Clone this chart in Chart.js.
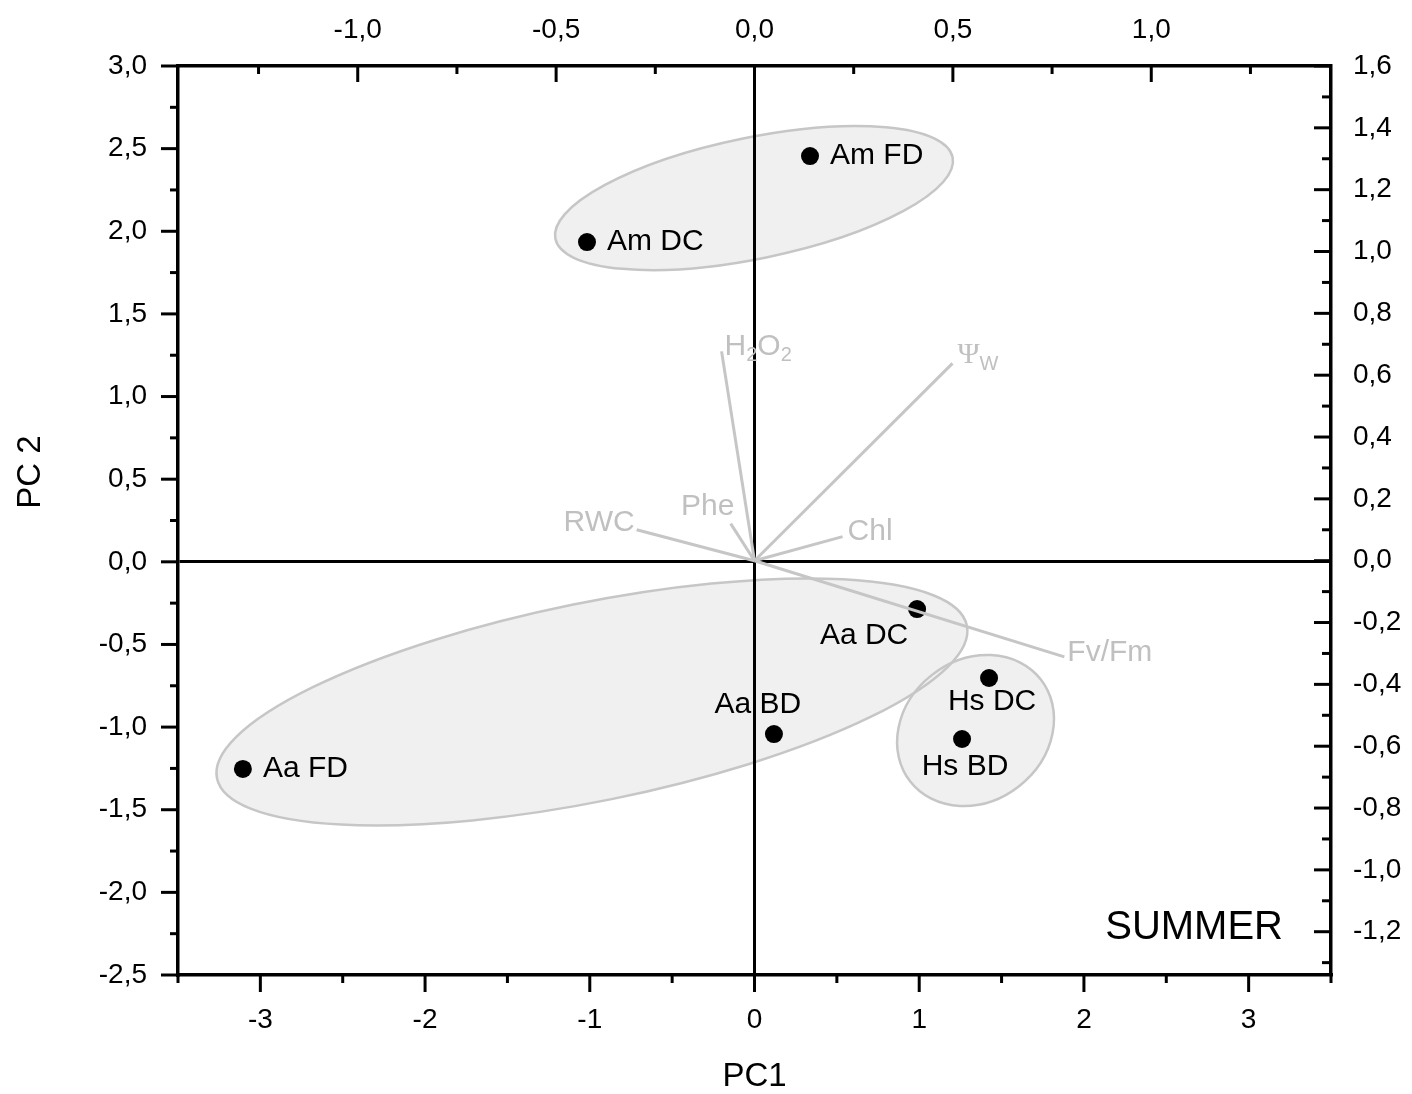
<!DOCTYPE html>
<html>
<head>
<meta charset="utf-8">
<script src="https://cdn.jsdelivr.net/npm/chart.js@4.4.1/dist/chart.umd.min.js"></script>
<style>
  html, body { margin: 0; padding: 0; background: #fff; }
  #wrap { width: 1412px; height: 1094px; }
</style>
</head>
<body>
<div id="wrap"><canvas id="pca" width="1412" height="1094"></canvas></div>
<script>
// sample scores, bottom / left axes
const sampleNames = ["Am FD", "Am DC", "Aa DC", "Aa BD", "Aa FD", "Hs DC", "Hs BD"];
const scorePC1 = [0.337, -1.017, 0.987, 0.118, -3.106, 1.424, 1.260];
const scorePC2 = [2.455, 1.935, -0.286, -1.042, -1.253, -0.703, -1.072];

// variable loadings, top / right axes
const varNames = ["H2O2", "Psi_w", "Phe", "RWC", "Chl", "Fv/Fm"];
const loadX = [-0.083, 0.499, -0.060, -0.297, 0.222, 0.781];
const loadY = [0.677, 0.638, 0.120, 0.100, 0.078, -0.311];

// group ellipses (PC units, angle in degrees)
const groupNames = ["Am", "Aa", "Hs"];
const groupCx = [-0.003, -0.987, 1.342];
const groupCy = [2.201, -0.848, -1.021];
const groupRx = [1.231, 2.323, 0.503];
const groupRy = [0.368, 0.602, 0.429];
const groupAngle = [11.6, 11.5, 38];

// axis ticks
const pc1Ticks = [-3, -2, -1, 0, 1, 2, 3];
const pc1Minor = [-3.5, -2.5, -1.5, -0.5, 0.5, 1.5, 2.5, 3.5];
const pc2Ticks = [-2.5, -2.0, -1.5, -1.0, -0.5, 0.0, 0.5, 1.0, 1.5, 2.0, 2.5, 3.0];
const pc2Minor = [-2.25, -1.75, -1.25, -0.75, -0.25, 0.25, 0.75, 1.25, 1.75, 2.25, 2.75];
const topTicks = [-1.0, -0.5, 0.0, 0.5, 1.0];
const topMinor = [-1.25, -0.75, -0.25, 0.25, 0.75, 1.25];
const rightTicks = [-1.2, -1.0, -0.8, -0.6, -0.4, -0.2, 0.0, 0.2, 0.4, 0.6, 0.8, 1.0, 1.2, 1.4, 1.6];
const rightMinor = [-1.3, -1.1, -0.9, -0.7, -0.5, -0.3, -0.1, 0.1, 0.3, 0.5, 0.7, 0.9, 1.1, 1.3, 1.5];

const FONT = "'Liberation Sans', Arial, sans-serif";
const GREY = "#c0c0c0";

// label placement (pixels from the mark)
const sampleLabelPos = [
  [20, 0, "left"], [20, 0, "left"], [-53, 27, "center"], [-16, -29, "center"],
  [20, 0, "left"], [3, 24, "center"], [3, 28, "center"]
];
const varLabelPos = [[3, -5, "left"], [5, -8, "left"], [-23, -17, "center"], [-2, -7, "right"], [5, -5, "left"], [3, -4, "left"]];

const comma = v => v.toFixed(1).replace(".", ",");
const setTicks = arr => scale => { scale.ticks = arr.map(v => ({ value: v })); };

const ellipsePlugin = {
  id: "groupEllipses",
  beforeDraw(chart) {
    const { ctx, scales: { x, y } } = chart;
    ctx.save();
    ctx.fillStyle = "#fff";
    ctx.fillRect(0, 0, chart.width, chart.height);
    const ppu = x.getPixelForValue(1) - x.getPixelForValue(0);
    const path = i => {
      ctx.beginPath();
      ctx.ellipse(x.getPixelForValue(groupCx[i]), y.getPixelForValue(groupCy[i]),
        groupRx[i] * ppu, groupRy[i] * ppu, -groupAngle[i] * Math.PI / 180, 0, 2 * Math.PI);
    };
    groupNames.forEach((g, i) => { path(i); ctx.fillStyle = "#f0f0f0"; ctx.fill(); });
    groupNames.forEach((g, i) => { path(i); ctx.strokeStyle = "#c6c6c6"; ctx.lineWidth = 2.5; ctx.stroke(); });
    ctx.restore();
  }
};

function drawSubText(ctx, parts, x, y, size) {
  // parts: [text, isSub, family]
  let cx = x;
  parts.forEach(([t, sub, fam]) => {
    const s = sub ? Math.round(size * 0.68) : size;
    ctx.font = `${s}px ${fam || FONT}`;
    ctx.fillText(t, cx, sub ? y + size * 0.3 : y);
    cx += ctx.measureText(t).width;
  });
}

const labelPlugin = {
  id: "labels",
  afterDatasetsDraw(chart) {
    const { ctx, scales: { x2, y2 } } = chart;
    ctx.save();
    ctx.textBaseline = "middle";
    // variable labels
    ctx.fillStyle = GREY;
    varNames.forEach((name, i) => {
      const px = x2.getPixelForValue(loadX[i]) + varLabelPos[i][0];
      const py = y2.getPixelForValue(loadY[i]) + varLabelPos[i][1];
      ctx.textAlign = "left";
      if (name === "H2O2") {
        drawSubText(ctx, [["H"], ["2", true], ["O"], ["2", true]], px, py, 30);
      } else if (name === "Psi_w") {
        drawSubText(ctx, [["\u03A8", false, "'Liberation Serif', 'Times New Roman', serif"], ["W", true]], px, py, 30);
      } else {
        ctx.font = `30px ${FONT}`;
        ctx.textAlign = varLabelPos[i][2];
        ctx.fillText(name, px, py);
      }
    });
    // sample labels
    const meta = chart.getDatasetMeta(chart.data.datasets.length - 1);
    ctx.fillStyle = "#000";
    ctx.font = `30px ${FONT}`;
    sampleNames.forEach((name, i) => {
      const pt = meta.data[i];
      ctx.textAlign = sampleLabelPos[i][2];
      ctx.fillText(name, pt.x + sampleLabelPos[i][0], pt.y + sampleLabelPos[i][1]);
    });
    ctx.restore();
  },
  afterDraw(chart) {
    const { ctx, chartArea: a, scales } = chart;
    ctx.save();
    ctx.strokeStyle = "#000";
    ctx.lineWidth = 3;
    const tick = (scale, vals, len, side) => {
      vals.forEach(v => {
        const p = scale.getPixelForValue(v);
        ctx.beginPath();
        if (side === "bottom") { ctx.moveTo(p, a.bottom); ctx.lineTo(p, a.bottom + len); }
        if (side === "top") { ctx.moveTo(p, a.top); ctx.lineTo(p, a.top + len); }
        if (side === "left") { ctx.moveTo(a.left, p); ctx.lineTo(a.left - len, p); }
        if (side === "right") { ctx.moveTo(a.right, p); ctx.lineTo(a.right - len, p); }
        ctx.stroke();
      });
    };
    tick(scales.x, pc1Ticks, 17, "bottom");
    tick(scales.x, pc1Minor, 8, "bottom");
    tick(scales.y, pc2Ticks, 17, "left");
    tick(scales.y, pc2Minor, 8, "left");
    tick(scales.x2, topTicks, 16, "top");
    tick(scales.x2, topMinor, 8, "top");
    tick(scales.y2, rightTicks, 17, "right");
    tick(scales.y2, rightMinor, 9, "right");

    // y title and season tag
    ctx.fillStyle = "#000";
    ctx.textBaseline = "middle";
    ctx.textAlign = "center";
    ctx.font = `33px ${FONT}`;
    ctx.translate(31, 472);
    ctx.rotate(-Math.PI / 2);
    ctx.fillText("PC 2", 0, 0);
    ctx.setTransform(1, 0, 0, 1, 0, 0);
    ctx.textAlign = "right";
    ctx.font = `40px ${FONT}`;
    ctx.fillText("SUMMER", a.right - 48, a.bottom - 47);
    ctx.restore();
  }
};

const vectorSets = varNames.map((name, i) => ({
  type: "line",
  label: name,
  data: [{ x: 0, y: 0 }, { x: loadX[i], y: loadY[i] }],
  xAxisID: "x2",
  yAxisID: "y2",
  borderColor: "#c6c6c6",
  borderWidth: 3,
  pointRadius: 0,
  fill: false
}));

const scoreSet = {
  type: "scatter",
  label: "scores",
  data: scorePC1.map((v, i) => ({ x: v, y: scorePC2[i] })),
  xAxisID: "x",
  yAxisID: "y",
  backgroundColor: "#000",
  borderWidth: 0,
  pointRadius: 9
};

const tickFont = { family: FONT, size: 28 };
const zeroLine = {
  drawTicks: false,
  color: c => (c.tick && c.tick.value === 0 ? "#000" : "rgba(0,0,0,0)"),
  lineWidth: 3
};

new Chart(document.getElementById("pca"), {
  type: "scatter",
  data: { datasets: [...vectorSets, scoreSet] },
  options: {
    responsive: false,
    animation: false,
    events: [],
    layout: { padding: 0 },
    plugins: { legend: { display: false }, tooltip: { enabled: false } },
    scales: {
      x: {
        type: "linear", position: "bottom", min: -3.5, max: 3.5,
        afterBuildTicks: setTicks(pc1Ticks),
        afterFit: s => { s.height = 119; },
        grid: zeroLine,
        border: { color: "#000", width: 3.5 },
        ticks: { font: tickFont, color: "#000", padding: 28, maxRotation: 0, callback: v => String(v) },
        title: { display: true, text: "PC1", color: "#000", font: { family: FONT, size: 33 }, padding: { top: 0, bottom: -3 } }
      },
      y: {
        type: "linear", position: "left", min: -2.5, max: 3.0,
        afterBuildTicks: setTicks(pc2Ticks),
        afterFit: s => { s.width = 178; },
        grid: zeroLine,
        border: { color: "#000", width: 3.5 },
        ticks: { font: tickFont, color: "#000", padding: 31, callback: comma }
      },
      x2: {
        type: "linear", position: "top", min: -1.453, max: 1.453,
        afterBuildTicks: setTicks(topTicks),
        afterFit: s => { s.height = 66; },
        grid: { display: false, drawTicks: false },
        border: { color: "#000", width: 3.5 },
        ticks: { font: tickFont, color: "#000", padding: 19, maxRotation: 0, callback: comma }
      },
      y2: {
        type: "linear", position: "right", min: -1.34, max: 1.6,
        afterBuildTicks: setTicks(rightTicks),
        afterFit: s => { s.width = 81; },
        grid: { display: false, drawTicks: false },
        border: { color: "#000", width: 3.5 },
        ticks: { font: tickFont, color: "#000", padding: 22, callback: comma }
      }
    }
  },
  plugins: [ellipsePlugin, labelPlugin]
});
</script>
</body>
</html>
